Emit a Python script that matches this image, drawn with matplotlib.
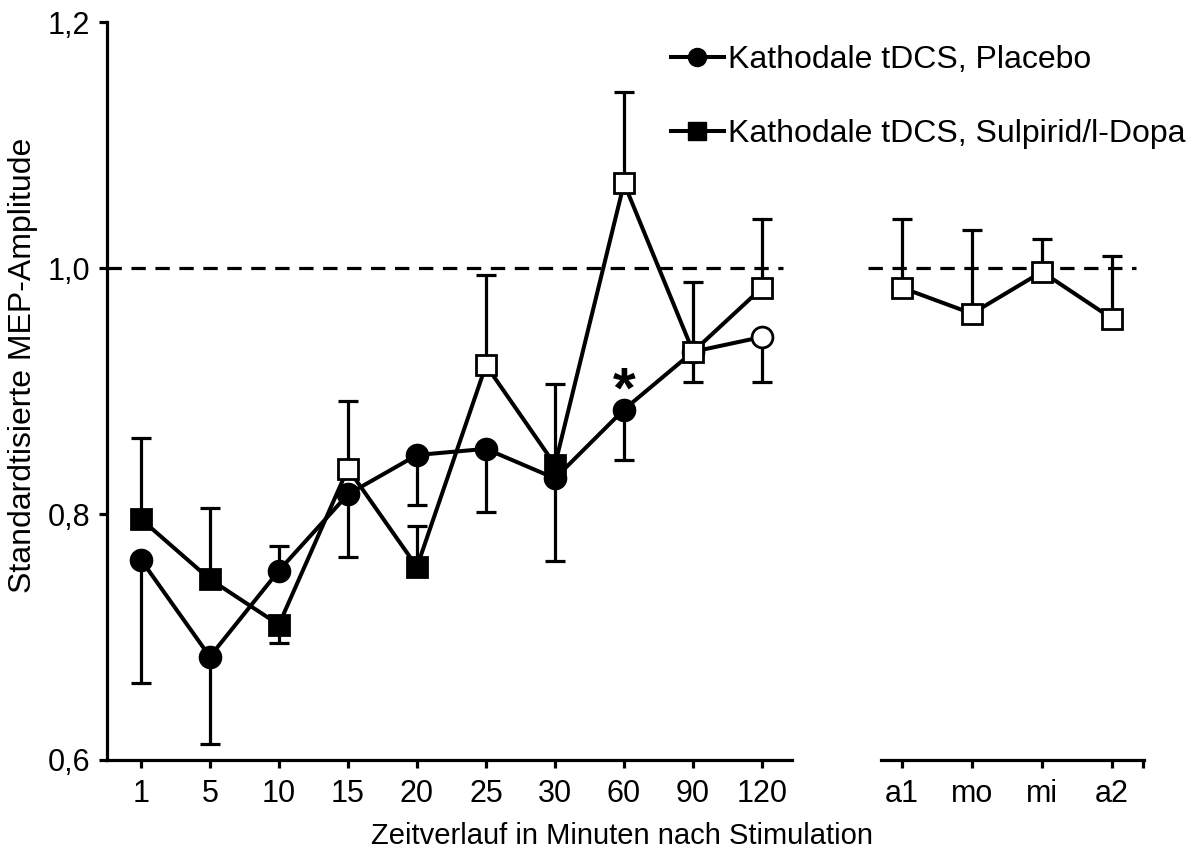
import numpy as np
import matplotlib.pyplot as plt
from matplotlib.lines import Line2D

plt.rcParams['font.family'] = ['Liberation Sans', 'DejaVu Sans']

# time points after stimulation (minutes) and later sessions
times = ['1', '5', '10', '15', '20', '25', '30', '60', '90', '120']
later = ['a1', 'mo', 'mi', 'a2']

# Kathodale tDCS, Placebo (circles)
plac = [0.763, 0.684, 0.754, 0.816, 0.848, 0.853, 0.829, 0.885, 0.932, 0.944]
plac_lo = [0.100, 0.071, 0.0, 0.051, 0.041, 0.051, 0.067, 0.041, 0.025, 0.037]
plac_hi = [0.0, 0.0, 0.020, 0.0, 0.0, 0.0, 0.0, 0.0, 0.0, 0.0]
plac_open = [False] * 8 + [True, True]

# Kathodale tDCS, Sulpirid/l-Dopa (squares)
sulp = [0.796, 0.747, 0.710, 0.837, 0.757, 0.921, 0.840, 1.069, 0.932, 0.984]
sulp_lo = [0.0, 0.0, 0.015, 0.0, 0.0, 0.0, 0.0, 0.0, 0.0, 0.0]
sulp_hi = [0.066, 0.058, 0.0, 0.055, 0.033, 0.073, 0.066, 0.074, 0.057, 0.056]
sulp_open = [False, False, False, True, False, True, False, True, True, True]

# later sessions, Sulpirid/l-Dopa
late = [0.984, 0.963, 0.997, 0.959]
late_hi = [0.056, 0.068, 0.027, 0.051]

LW = 2.9
MS = 15
ELW = 2.3
CAP = 7

fig = plt.figure(figsize=(11.93, 8.52), dpi=100)
ax1 = fig.add_axes([0.0897, 0.108, 0.574, 0.866])
ax2 = fig.add_axes([0.7385, 0.108, 0.2205, 0.866])
ax2.patch.set_visible(False)


def draw_series(ax, x, y, lo, hi, opn, marker, z):
    x = np.asarray(x)
    y = np.asarray(y)
    opn = np.asarray(opn)
    ax.errorbar(x, y, yerr=[lo, hi], fmt='none', ecolor='black',
                elinewidth=ELW, capsize=CAP, capthick=ELW, zorder=z)
    ax.plot(x, y, '-', color='black', lw=LW, zorder=z + 1)
    ax.plot(x[~opn], y[~opn], ls='none', marker=marker, ms=MS,
            mfc='black', mec='black', mew=2, zorder=z + 2)
    ax.plot(x[opn], y[opn], ls='none', marker=marker, ms=MS,
            mfc='white', mec='black', mew=2, zorder=z + 2)


xs = np.arange(len(times))
draw_series(ax1, xs, plac, plac_lo, plac_hi, plac_open, 'o', 2)
draw_series(ax1, xs, sulp, sulp_lo, sulp_hi, sulp_open, 's', 5)

xl = np.arange(len(later))
draw_series(ax2, xl, late, [0] * 4, late_hi, [True] * 4, 's', 5)

# reference line at 1,0
ax1.plot([-0.49, 9.3], [1.0, 1.0], ls='--', dashes=(4.5, 3), color='black',
         lw=2.3, zorder=1, clip_on=False)
ax2.plot([-0.48, 3.35], [1.0, 1.0], ls='--', dashes=(4.5, 3), color='black',
         lw=2.3, zorder=1, clip_on=False)

# significance marker
ax1.text(7, 0.899, '*', ha='center', va='center', fontsize=42,
         fontweight='bold')

for ax in (ax1, ax2):
    ax.set_ylim(0.6, 1.2)
    for s in ('top', 'right'):
        ax.spines[s].set_visible(False)
    ax.spines['bottom'].set_linewidth(2.3)
    ax.spines['left'].set_linewidth(2.3)
    ax.tick_params(axis='both', direction='out', length=6, width=2.3,
                   labelsize=22, pad=8)

ax1.set_xlim(-0.49, 9.43)
ax1.set_xticks(xs)
ax1.set_xticklabels(times)
ax1.set_yticks([0.6, 0.8, 1.0, 1.2])
ax1.set_yticklabels(['0,6', '0,8', '1,0', '1,2'])
ax1.tick_params(axis='y', pad=6)

ax2.set_xlim(-0.3, 3.46)
ax2.set_xticks(list(xl) + [3.45])
ax2.set_xticklabels(later + [''])
ax2.spines['left'].set_visible(False)
ax2.set_yticks([])

fig.text(371 / 1193, 1 - 836 / 852, 'Zeitverlauf in Minuten nach Stimulation',
         ha='left', va='center', fontsize=21)
fig.text(23 / 1193, 1 - 365 / 852, 'Standardtisierte MEP-Amplitude',
         ha='center', va='center', rotation=90, fontsize=23)

handles = [
    Line2D([], [], color='black', lw=LW, marker='o', ms=13),
    Line2D([], [], color='black', lw=LW, marker='s', ms=13),
]
fig.legend(handles, ['Kathodale tDCS, Placebo', 'Kathodale tDCS, Sulpirid/l-Dopa'],
           loc='upper left', bbox_to_anchor=(671 / 1193, 1 - 45 / 852),
           frameon=False, fontsize=23, handlelength=1.65, handletextpad=0.12,
           labelspacing=1.38, borderaxespad=0, borderpad=0)

fig.savefig('out.png', dpi=100)
